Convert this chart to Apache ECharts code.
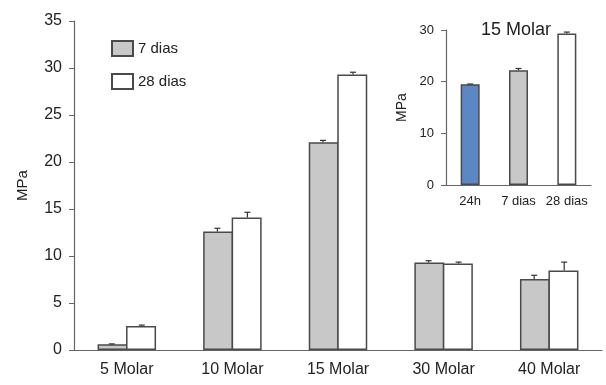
<!DOCTYPE html>
<html>
<head>
<meta charset="utf-8">
<script src="https://cdn.jsdelivr.net/npm/echarts@6/dist/echarts.min.js"></script>
<style>html,body{margin:0;padding:0;background:#fff;}#c{width:606px;height:385px;}</style>
</head>
<body>
<div id="c"></div>
<script>
const categories = ['5 Molar', '10 Molar', '15 Molar', '30 Molar', '40 Molar'];
const dias7 = [0.6, 12.6, 22.1, 9.3, 7.55];
const dias7Err = [0.05, 0.35, 0.2, 0.2, 0.4];
const dias28 = [2.55, 14.1, 29.3, 9.2, 8.45];
const dias28Err = [0.1, 0.55, 0.25, 0.15, 0.9];
const insetCategories = ['24h', '7 dias', '28 dias'];
const insetValues = [19.5, 22.2, 29.3];
const insetErr = [0.05, 0.35, 0.3];

const FONT = 'Liberation Sans, Arial, sans-serif';
const TXT = '#222';
const AX = '#666';
const BORDER = '#4a4a4a';
const insetColors = ['#5b87c5', '#c8c8c8', '#ffffff'];

function errSeries(vals, errs, offset, xi, yi) {
  return {
    type: 'custom',
    xAxisIndex: xi, yAxisIndex: yi,
    z: 10,
    silent: true,
    data: vals.map((v, i) => [i, v, errs[i]]),
    encode: { x: 0, y: 1 },
    renderItem: function (params, api) {
      const i = api.value(0), v = api.value(1), e = api.value(2);
      const base = api.coord([i, v]);
      const top = api.coord([i, v + e]);
      const x = base[0] + offset;
      return {
        type: 'group',
        children: [
          { type: 'line', shape: { x1: x, y1: base[1], x2: x, y2: top[1] }, style: { stroke: '#333', lineWidth: 1.2 } },
          { type: 'line', shape: { x1: x - 3, y1: top[1], x2: x + 3, y2: top[1] }, style: { stroke: '#333', lineWidth: 1.2 } }
        ]
      };
    }
  };
}

const chart = echarts.init(document.getElementById('c'));
chart.setOption({
  animation: false,
  textStyle: { fontFamily: FONT, color: TXT },
  title: {
    text: '15 Molar', left: 476, top: 16,
    textStyle: { fontFamily: FONT, fontSize: 18, fontWeight: 'normal', color: TXT }
  },
  legend: {
    data: ['7 dias', '28 dias'],
    orient: 'vertical', left: 106, top: 35,
    icon: 'rect',
    itemWidth: 21, itemHeight: 15, itemGap: 16,
    textStyle: { fontFamily: FONT, fontSize: 15, color: TXT }
  },
  grid: [
    { left: 74, right: 4, top: 21, bottom: 35 },
    { left: 446, right: 15, top: 30, bottom: 200 }
  ],
  xAxis: [
    {
      type: 'category', data: categories, gridIndex: 0,
      axisLine: { lineStyle: { color: AX, width: 1.2 } },
      axisTick: { length: 5, lineStyle: { color: AX } },
      axisLabel: { fontSize: 16, color: TXT, margin: 12, fontFamily: FONT, interval: 0 }
    },
    {
      type: 'category', data: insetCategories, gridIndex: 1,
      axisLine: { lineStyle: { color: AX, width: 1.2 } },
      axisTick: { length: 5, lineStyle: { color: AX }, interval: 0 },
      axisLabel: { fontSize: 13, color: TXT, margin: 10, fontFamily: FONT, interval: 0 }
    }
  ],
  yAxis: [
    {
      type: 'value', gridIndex: 0, min: 0, max: 35, interval: 5,
      name: 'MPa', nameLocation: 'middle', nameRotate: 90, nameGap: 44,
      nameTextStyle: { fontSize: 15, color: TXT, fontFamily: FONT },
      axisLine: { show: true, lineStyle: { color: AX, width: 1.2 } },
      axisTick: { show: true, length: 5, lineStyle: { color: AX } },
      axisLabel: { fontSize: 16, color: TXT, margin: 12, fontFamily: FONT },
      splitLine: { show: false }
    },
    {
      type: 'value', gridIndex: 1, min: 0, max: 30, interval: 10,
      name: 'MPa', nameLocation: 'middle', nameRotate: 90, nameGap: 37,
      nameTextStyle: { fontSize: 14, color: TXT, fontFamily: FONT },
      axisLine: { show: true, lineStyle: { color: AX, width: 1.2 } },
      axisTick: { show: true, length: 5, lineStyle: { color: AX } },
      axisLabel: { fontSize: 13, color: TXT, margin: 12, fontFamily: FONT },
      splitLine: { show: false }
    }
  ],
  series: [
    {
      name: '7 dias', type: 'bar', data: dias7, xAxisIndex: 0, yAxisIndex: 0,
      barWidth: 30, barGap: '-5%',
      itemStyle: { color: '#c8c8c8', borderColor: BORDER, borderWidth: 1.5 }
    },
    {
      name: '28 dias', type: 'bar', data: dias28, xAxisIndex: 0, yAxisIndex: 0,
      barWidth: 30, barGap: '-5%',
      itemStyle: { color: '#ffffff', borderColor: BORDER, borderWidth: 1.5 }
    },
    errSeries(dias7, dias7Err, -15, 0, 0),
    errSeries(dias28, dias28Err, 15, 0, 0),
    {
      type: 'bar', data: insetValues, xAxisIndex: 1, yAxisIndex: 1,
      barWidth: 19,
      itemStyle: {
        color: function (p) { return insetColors[p.dataIndex]; },
        borderColor: BORDER, borderWidth: 1.5
      }
    },
    errSeries(insetValues, insetErr, 0, 1, 1)
  ]
});
</script>
</body>
</html>
